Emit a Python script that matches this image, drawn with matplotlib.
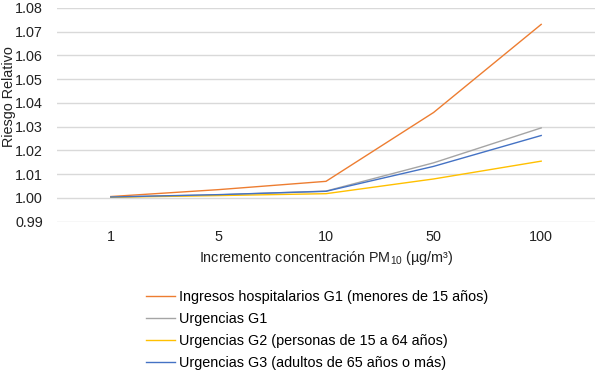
import matplotlib
matplotlib.use("Agg")
import matplotlib.pyplot as plt

plt.rcParams['font.family'] = ['Liberation Sans', 'DejaVu Sans']
plt.rcParams['mathtext.fontset'] = 'custom'
plt.rcParams['mathtext.rm'] = 'Liberation Sans'

categories = ['1', '5', '10', '50', '100']
ingresos_g1 = [1.0006, 1.0035, 1.0070, 1.0360, 1.0731]
urgencias_g1 = [1.0004, 1.0013, 1.0029, 1.0148, 1.0295]
urgencias_g2 = [1.0003, 1.0010, 1.0018, 1.0080, 1.0155]
urgencias_g3 = [1.0004, 1.0014, 1.0028, 1.0133, 1.0263]

labels = [
    'Ingresos hospitalarios G1 (menores de 15 años)',
    'Urgencias G1',
    'Urgencias G2 (personas de 15 a 64 años)',
    'Urgencias G3 (adultos de 65 años o más)',
]
colors = ['#ED7D31', '#A5A5A5', '#FFC000', '#4472C4']
fs = 10.4

fig = plt.figure(figsize=(5.95, 3.74), dpi=100)
ax = fig.add_axes([57 / 595, 1 - 221.7 / 374, 538 / 595, (221.7 - 8) / 374])

x = range(len(categories))
handles = []
for vals, lab, col in zip([ingresos_g1, urgencias_g1, urgencias_g2, urgencias_g3], labels, colors):
    h, = ax.plot(x, vals, color=col, linewidth=1.0, label=lab)
    handles.append(h)

ax.set_xlim(-0.5, len(categories) - 0.5)
ax.set_ylim(0.99, 1.08)
ax.set_yticks([0.99 + 0.01 * i for i in range(10)])
ax.set_yticklabels([f'{0.99 + 0.01 * i:.2f}' for i in range(10)])
ax.set_xticks(list(x))
ax.set_xticklabels(categories)
ax.tick_params(length=0, labelsize=fs, colors='#222222')
ax.tick_params(axis='x', pad=6)
ax.tick_params(axis='y', pad=10)
ax.grid(axis='y', color='#d9d9d9', linewidth=1.0)
ax.set_axisbelow(True)
for s in ax.spines.values():
    s.set_visible(False)

ax.set_xlabel('Incremento concentración PM$_{\\mathrm{10}}$ (µg/m³)', fontsize=fs, color='#222222')
ax.set_ylabel('Riesgo Relativo', fontsize=fs, color='#222222')
ax.xaxis.set_label_coords(0.5, -(258 - 221.7) / 213.7, transform=ax.transAxes)
ax.yaxis.set_label_coords(-(57 - 9) / 538, (221.7 - 97) / 213.7)
ax.xaxis.label.set_va('center')
ax.yaxis.label.set_va('center')

fig.legend(handles=handles, loc='upper left', bbox_to_anchor=(140 / 595, 1 - 284 / 374),
           frameon=False, fontsize=fs, handlelength=2.0, handletextpad=0.3,
           labelspacing=0.55, borderaxespad=0)

fig.savefig('out.png', dpi=100)
